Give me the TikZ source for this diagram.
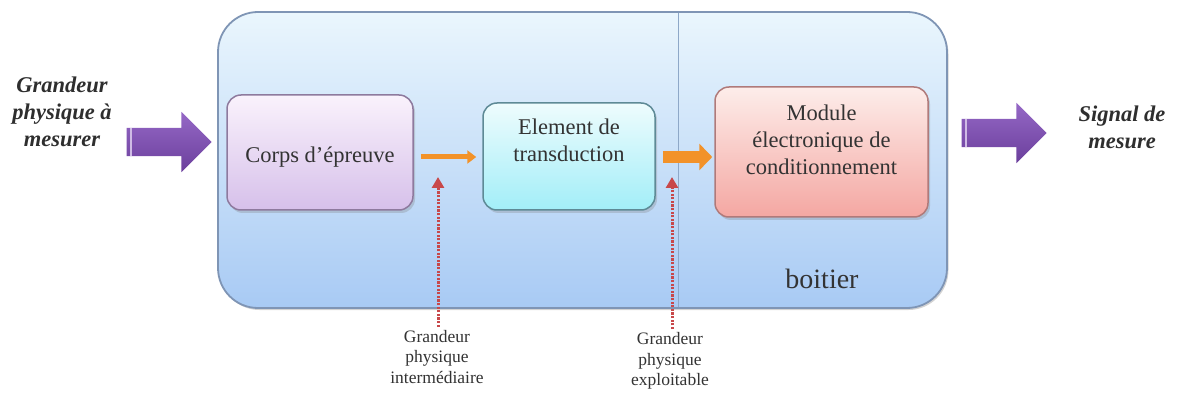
\documentclass[tikz,border=0pt]{standalone}
\usepackage{fontspec}
\setmainfont{Liberation Serif}
\usetikzlibrary{shapes.arrows,shadows,arrows.meta,calc}
\definecolor{txt}{HTML}{333333}
\definecolor{boxline}{HTML}{7F95B5}
\definecolor{boxtop}{HTML}{EAF6FD}
\definecolor{boxbot}{HTML}{A8CAF4}
\definecolor{cpline}{HTML}{8E7A9E}
\definecolor{cptop}{HTML}{FAF2FC}
\definecolor{cpbot}{HTML}{D6C0EA}
\definecolor{elline}{HTML}{5E8A96}
\definecolor{eltop}{HTML}{EEFCFD}
\definecolor{elbot}{HTML}{A2EEF8}
\definecolor{moline}{HTML}{B07A7A}
\definecolor{motop}{HTML}{FDEDEA}
\definecolor{mobot}{HTML}{F4A7A2}
\definecolor{purpA}{HTML}{9568C6}
\definecolor{purpB}{HTML}{6B3F9C}
\definecolor{orng}{HTML}{F29229}
\definecolor{redd}{HTML}{C8484A}
\definecolor{vline}{HTML}{8EA8C8}
\tikzset{
  casing/.style={draw=boxline, line width=1.8pt, rounded corners=40pt,
    top color=boxtop, bottom color=boxbot, inner sep=0pt,
    drop shadow={shadow xshift=1.5pt, shadow yshift=-2pt, opacity=0.35}},
  block/.style={line width=1.5pt, rounded corners=14pt, inner sep=0pt,
    drop shadow={shadow xshift=2pt, shadow yshift=-3pt, opacity=0.3}},
  blocktxt/.style={text=txt, align=center, font=\fontsize{22.5}{27}\selectfont},
  sidetxt/.style={text=txt!90!black, align=center, font=\fontsize{22.5}{27}\selectfont\bfseries\itshape},
  notetxt/.style={text=txt, align=center, font=\fontsize{17.5}{20.5}\selectfont},
  bigarrow/.style={single arrow, top color=purpA, bottom color=purpB, draw=none,
    inner sep=0pt, minimum height=85pt,
    single arrow head extend=16pt, single arrow tip angle=90},
  flow/.style={draw=orng, -{Triangle[length=9pt,width=13pt]}},
  probe/.style={draw=redd, line width=3pt, dash pattern=on 2.2pt off 1.4pt,
    -{Triangle[length=11pt,width=12pt]}}
}
\begin{document}
\begin{tikzpicture}[x=1pt,y=-1pt]
\useasboundingbox (0,0) rectangle (1178,398);
% casing
\node[casing, minimum width=729pt, minimum height=296pt] (boitier) at (582.5,160) {};
\coordinate (vtop) at (678,13);
\coordinate (vbot) at (678,307);
\draw[vline, line width=1pt] (vtop) -- (vbot);
\node[text=txt, font=\fontsize{28}{30}\selectfont] (boitxt) at (822,279) {boitier};
% blocks
\node[block, draw=cpline, top color=cptop, bottom color=cpbot,
  minimum width=186pt, minimum height=115pt] (corps) at (320,152.5) {};
\node[blocktxt] (corpstxt) at (320,157) {Corps d’épreuve};
\node[block, draw=elline, top color=eltop, bottom color=elbot,
  minimum width=172pt, minimum height=107pt] (elem) at (569,156.5) {};
\node[blocktxt] (elemtxt) at (569,140) {Element de\\transduction};
\node[block, draw=moline, top color=motop, bottom color=mobot,
  minimum width=213pt, minimum height=130pt] (mod) at (821.5,152) {};
\node[blocktxt] (modtxt) at (821.5,140) {Module\\électronique de\\conditionnement};
% flows
\coordinate (fy) at (0,157);
\draw[flow, line width=5pt, shorten <=7pt, shorten >=6pt] (corps.east |- fy) -- (elem.west |- fy);
\draw[flow, line width=12pt, -{Triangle[length=13pt,width=26pt]}, shorten <=7pt, shorten >=2pt] (elem.east |- fy) -- (mod.west |- fy);
% probes
\node[notetxt] (note1) at (437,357) {Grandeur\\physique\\intermédiaire};
\node[notetxt] (note2) at (670,361) {Grandeur\\physique\\exploitable};
\coordinate (p1) at (438,177);
\coordinate (p2) at (672,177);
\draw[probe] (note1.north -| p1) -- (p1);
\draw[probe] (note2.north -| p2) -- (p2);
% input / output
\node[sidetxt] (intxt) at (62,112) {Grandeur\\physique à\\mesurer};
\node[bigarrow] (inarrow) at (162,142) {\rule{0pt}{28pt}};
\draw[purpA!45!white, line width=2pt] ($(inarrow.before tail)+(5,0)$) -- ($(inarrow.after tail)+(5,0)$);
\node[bigarrow] (outarrow) at (997,133) {\rule{0pt}{28pt}};
\draw[purpA!45!white, line width=2pt] ($(outarrow.before tail)+(5,0)$) -- ($(outarrow.after tail)+(5,0)$);
\node[sidetxt] (outtxt) at (1122,127) {Signal de\\mesure};
\end{tikzpicture}
\end{document}
